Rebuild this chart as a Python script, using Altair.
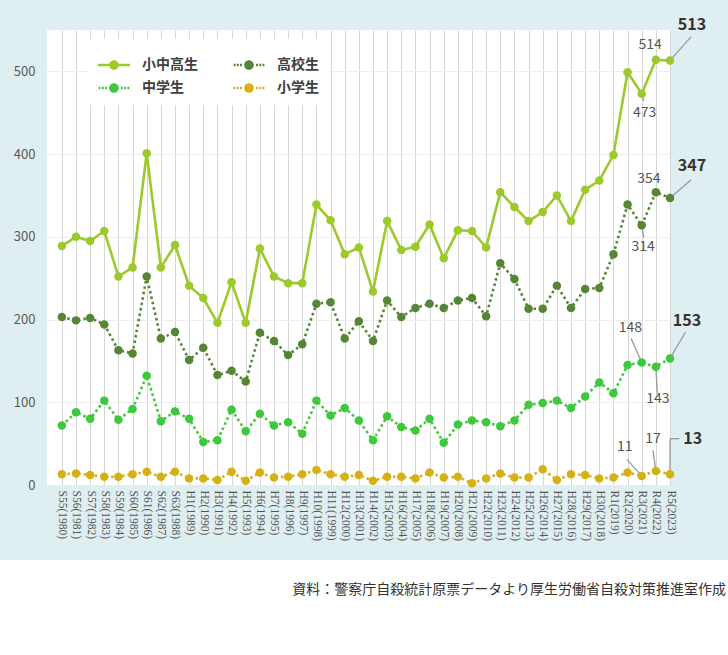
import altair as alt
import pandas as pd

years = ["S55(1980)", "S56(1981)", "S57(1982)", "S58(1983)", "S59(1984)", "S60(1985)",
         "S61(1986)", "S62(1987)", "S63(1988)", "H1(1989)", "H2(1990)", "H3(1991)",
         "H4(1992)", "H5(1993)", "H6(1994)", "H7(1995)", "H8(1996)", "H9(1997)",
         "H10(1998)", "H11(1999)", "H12(2000)", "H13(2001)", "H14(2002)", "H15(2003)",
         "H16(2004)", "H17(2005)", "H18(2006)", "H19(2007)", "H20(2008)", "H21(2009)",
         "H22(2010)", "H23(2011)", "H24(2012)", "H25(2013)", "H26(2014)", "H27(2015)",
         "H28(2016)", "H29(2017)", "H30(2018)", "R1(2019)", "R2(2020)", "R3(2021)",
         "R4(2022)", "R5(2023)"]

total = [289, 300, 295, 307, 252, 263, 401, 263, 290,
         241, 226, 196, 245, 196, 286, 252, 244, 244, 339,
         320, 279, 287, 234, 319, 284, 288, 315, 274, 308,
         307, 287, 354, 336, 319, 330, 350, 319, 357, 368,
         399, 499, 473, 514, 513]
high = [203, 199, 202, 194, 163, 159, 252, 177, 185,
        151, 166, 133, 138, 125, 184, 174, 157, 170, 219,
        221, 177, 198, 174, 223, 203, 214, 219, 214, 223,
        226, 204, 268, 249, 213, 213, 241, 214, 237, 238,
        279, 339, 314, 354, 347]
middle = [72, 88, 80, 102, 79, 92, 132, 77, 89,
          80, 52, 54, 91, 65, 86, 72, 76, 62, 102,
          84, 93, 78, 54, 83, 70, 66, 80, 51, 73,
          78, 76, 71, 78, 97, 99, 102, 93, 107, 124,
          111, 145, 148, 143, 153]
elementary = [13, 14, 12, 10, 10, 13, 16, 10, 16,
              8, 8, 6, 16, 5, 15, 9, 10, 13, 18,
              13, 10, 12, 5, 10, 10, 8, 15, 9, 10,
              2, 8, 14, 9, 9, 19, 6, 13, 12, 8,
              9, 15, 11, 17, 13]

series_names = ["小中高生", "高校生", "中学生", "小学生"]
series_values = [total, high, middle, elementary]
series_colors = ["#9cc92b", "#568536", "#3dc83d", "#d5b116"]

y_ticks = [0, 100, 200, 300, 400, 500]

caption = "資料：警察庁自殺統計原票データより厚生労働省自殺対策推進室作成"

# (series, year index, label, bold, text offset (steps, value units), leader segments as offsets)
annotations = [
    ("小中高生", 42, "514", False, (-0.4, 18), []),
    ("小中高生", 41, "473", False, (0.2, -23), [((0, 0), (0.15, -9))]),
    ("小中高生", 43, "513", True, (1.55, 43), [((0, 0), (1.5, 29))]),
    ("高校生", 42, "354", False, (-0.5, 16), []),
    ("高校生", 43, "347", True, (1.55, 39), [((0, 0), (1.5, 22))]),
    ("高校生", 41, "314", False, (0.1, -26.5), [((0, 0), (0.15, -15))]),
    ("中学生", 41, "148", False, (-0.8, 42), [((-0.75, 29), (0, 0))]),
    ("中学生", 42, "143", False, (0.15, -39.5), [((0, 0), (0.1, -32))]),
    ("中学生", 43, "153", True, (1.2, 45), [((0, 0), (1.1, 32))]),
    ("小学生", 41, "11", False, (-1.2, 34.5), [((-1.05, 20), (0, 0))]),
    ("小学生", 42, "17", False, (-0.2, 39), [((-0.2, 25), (0, 0))]),
    ("小学生", 43, "13", True, (1.6, 43), [((0, 0), (0, 43)), ((0, 43), (0.65, 43))]),
]

# ---------- tables ----------
rows = []
for i, yr in enumerate(years):
    for name, vals in zip(series_names, series_values):
        rows.append({"idx": i, "year": yr, "series": name, "value": vals[i]})
df = pd.DataFrame(rows)

lookup = dict(zip(series_names, series_values))
ann_rows, lead_rows = [], []
for s, i, lab, bold, (dx, dy), segs in annotations:
    v = lookup[s][i]
    ann_rows.append({"tx": i + dx, "ty": v + dy, "label": lab, "bold": bold})
    for a, b in segs:
        lead_rows.append({"x1": i + a[0], "y1": v + a[1], "x2": i + b[0], "y2": v + b[1]})
ann_df = pd.DataFrame(ann_rows)
lead_df = pd.DataFrame(lead_rows)

FONT = "Noto Sans CJK JP"
W, H = 623, 455

label_expr = "[" + ",".join("'%s'" % y for y in years) + "][datum.value]"
x_scale = alt.Scale(domain=[-1.05, len(years) - 1], nice=False, zero=False)
y_scale = alt.Scale(domain=[0, 550], nice=False)
x_axis = alt.Axis(values=list(range(len(years))), labelExpr=label_expr, labelAngle=90,
                  grid=True, gridColor="#d6d6d6", gridWidth=1, domain=False, ticks=False,
                  labelFont="Liberation Sans Narrow", labelFontSize=11.5, labelColor="#555555",
                  labelPadding=5, labelOverlap=False, labelFlush=False, title=None)
y_axis = alt.Axis(values=y_ticks, grid=True, gridColor="#ececec", domain=False, ticks=False,
                  labelFont=FONT, labelFontSize=13, labelColor="#595959", labelPadding=12,
                  title=None)


def X(field):
    return alt.X(field, type="quantitative", scale=x_scale, axis=x_axis)


def Y(field):
    return alt.Y(field, type="quantitative", scale=y_scale, axis=y_axis)


col_scale = alt.Scale(domain=series_names, range=series_colors)


# legend glyphs (unit square [-1,1]): line (solid or dotted) with a dot in the middle
def rect(x0, x1, h):
    return "M%.3f,%.3fH%.3fV%.3fH%.3fZ" % (x0, -h, x1, h, x0)


CIRCLE = "M-0.3,0A0.3,0.3,0,1,1,0.3,0A0.3,0.3,0,1,1,-0.3,0Z"
SOLID_GLYPH = rect(-1, -0.29, 0.08) + rect(0.29, 1, 0.08) + CIRCLE
DOTTED_GLYPH = "".join(rect(c - 0.06, c + 0.06, 0.08) for c in (-0.9, -0.7, -0.5, 0.5, 0.7, 0.9)) + CIRCLE

# white strip below the coloured panel (caption area)
strip = alt.Chart(pd.DataFrame({"a": [0]})).mark_rect(color="white").encode(
    x=alt.value(-47), x2=alt.value(W + 58), y=alt.value(530), y2=alt.value(H + 170)
)

solid = alt.Chart(df).transform_filter(alt.datum.series == "小中高生").mark_line(strokeWidth=2.6).encode(
    x=X("idx"), y=Y("value"),
    color=alt.Color("series:N", scale=col_scale, legend=None),
)
dotted = alt.Chart(df).transform_filter(alt.datum.series != "小中高生").mark_line(
    strokeWidth=2.6, strokeDash=[2.5, 3]
).encode(
    x=X("idx"), y=Y("value"),
    color=alt.Color("series:N", scale=col_scale, legend=None),
    detail="series:N",
)
leaders = alt.Chart(lead_df).mark_rule(color="#9a9a9a", strokeWidth=1.3).encode(
    x=X("x1"), y=Y("y1"), x2="x2:Q", y2="y2:Q"
)
points = alt.Chart(df).mark_circle(size=72, opacity=1).encode(
    x=X("idx"), y=Y("value"),
    color=alt.Color("series:N", scale=col_scale, legend=None),
)
txt_reg = alt.Chart(ann_df).transform_filter("!datum.bold").mark_text(
    font=FONT, fontSize=14, color="#555555", align="center", baseline="middle"
).encode(x=X("tx"), y=Y("ty"), text="label:N")
txt_bold = alt.Chart(ann_df).transform_filter("datum.bold").mark_text(
    font=FONT, fontSize=16, fontWeight="bold", color="#333333", align="center", baseline="middle"
).encode(x=X("tx"), y=Y("ty"), text="label:N")

# two overlaid legends: dotted glyphs (with an invisible placeholder in the first slot)
# and the solid glyph for the total series in that slot
placeholder = series_names[0] + " "
common = dict(title=None, orient="none", legendX=41, legendY=9, columns=2, direction="horizontal",
              symbolSize=1024, symbolStrokeWidth=0,
              labelFont=FONT, labelFontSize=14, labelFontWeight="bold", labelColor="#404040",
              labelOffset=12, columnPadding=49, rowPadding=-15, padding=10, symbolOpacity=1)
leg_dotted = alt.Legend(fillColor="white",
                        labelExpr="datum.label == '%s' ? '\u3000\u3000\u3000\u3000' : datum.label" % placeholder,
                        **common)
leg_solid = alt.Legend(**common)

legend_dotted = alt.Chart(df).transform_filter("false").mark_point(
    filled=True, opacity=1, strokeWidth=0, shape=DOTTED_GLYPH
).encode(
    x=X("idx"), y=Y("value"),
    color=alt.Color("series:N",
                    scale=alt.Scale(domain=[placeholder] + series_names[1:],
                                    range=["transparent"] + series_colors[1:]),
                    legend=leg_dotted),
)
legend_solid = alt.Chart(df).transform_filter("false").mark_point(
    filled=True, opacity=1, strokeWidth=0, shape=SOLID_GLYPH
).encode(
    x=X("idx"), y=Y("value"),
    color=alt.Color("series:N",
                    scale=alt.Scale(domain=series_names[:1], range=series_colors[:1]),
                    legend=leg_solid),
)

cap = alt.Chart(pd.DataFrame({"t": [caption]})).mark_text(
    font=FONT, fontSize=14, color="#333333", align="right", baseline="middle"
).encode(text="t:N", x=alt.value(W + 56), y=alt.value(560))

chart = alt.layer(
    strip, solid, dotted, leaders, points, txt_reg, txt_bold, legend_dotted, legend_solid, cap
).resolve_scale(color="independent").resolve_legend(color="independent").properties(
    width=W, height=H,
    autosize=alt.AutoSizeParams(type="none"),
    padding={"left": 47, "top": 30, "right": 58, "bottom": 170},
    background="#dfeef0",
).configure_view(fill="white", stroke=None)

chart.save("out.html", embed_options={"renderer": "svg", "actions": False})
